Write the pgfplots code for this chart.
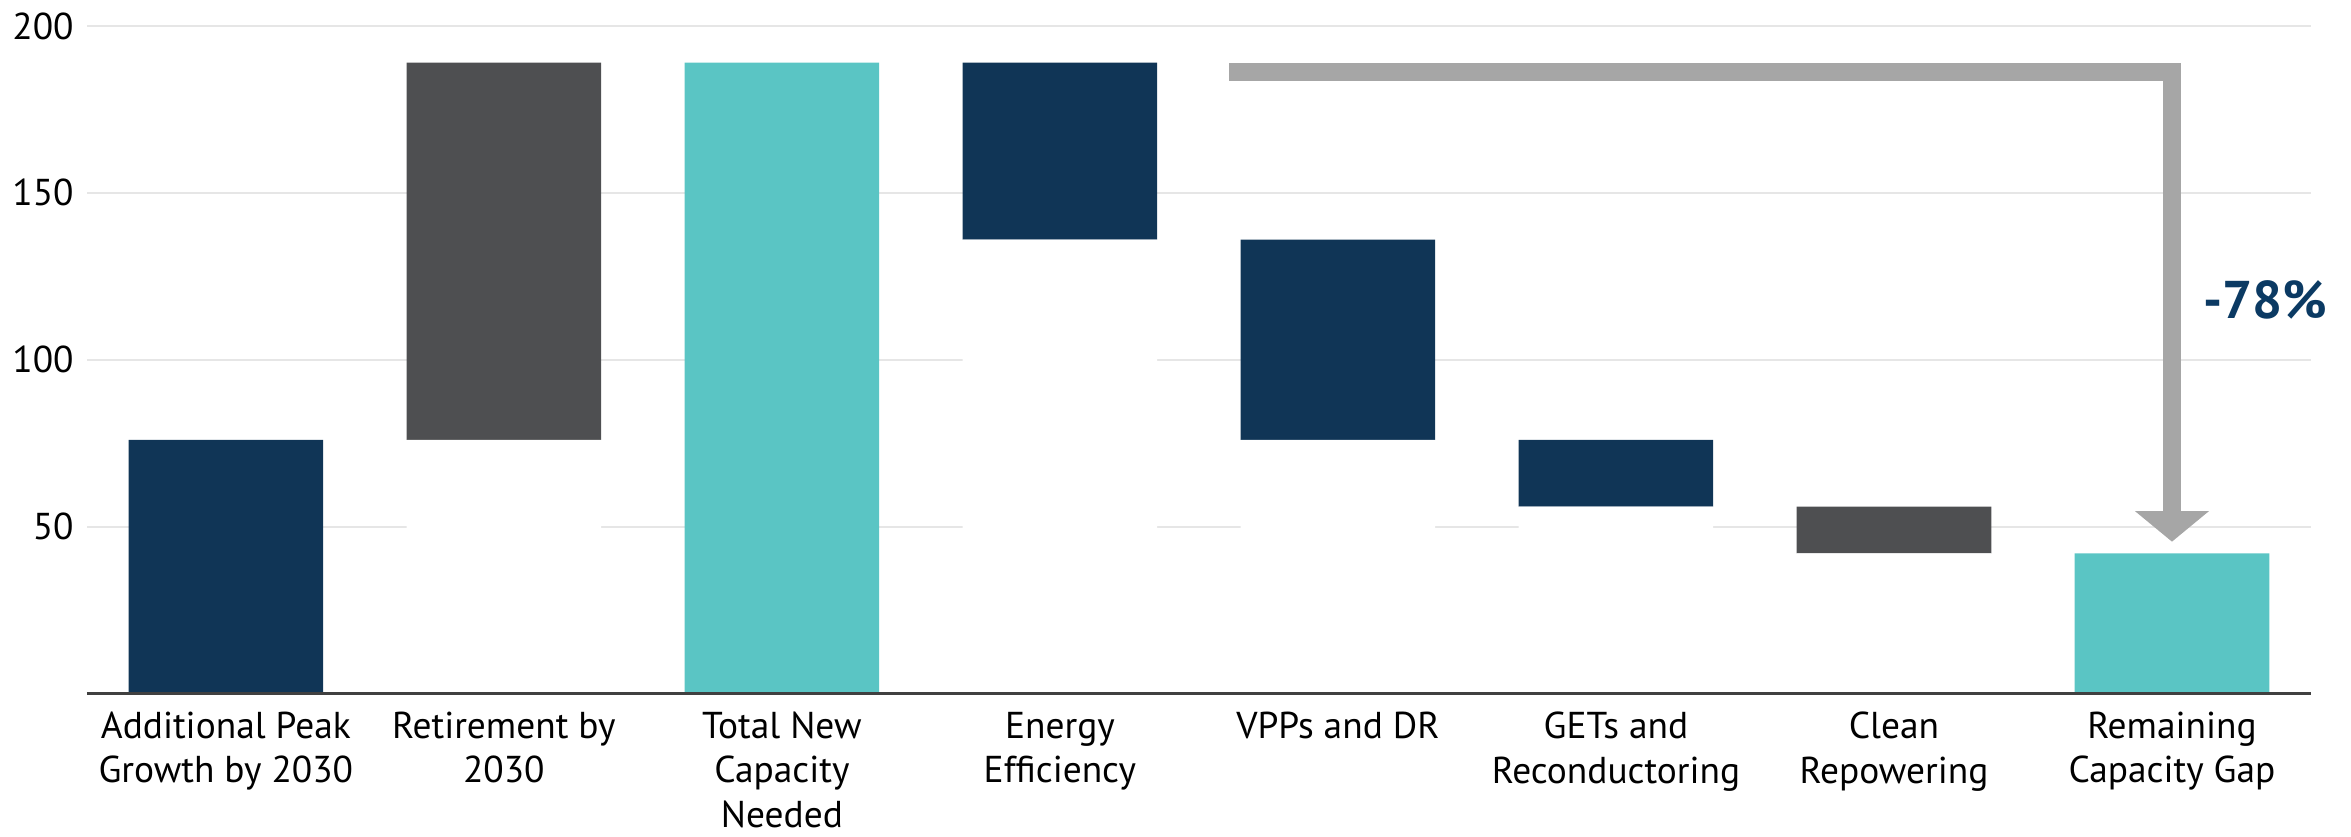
\documentclass[border=0pt]{standalone}
\usepackage{fontspec}
\setmainfont{PT Sans}
\usepackage{pgfplots}
\pgfplotsset{compat=1.18}
\usetikzlibrary{arrows.meta}
\definecolor{navy}{HTML}{103556}
\definecolor{dgray}{HTML}{4E4F51}
\definecolor{tealbar}{HTML}{5AC5C4}
\definecolor{arrowgray}{HTML}{A6A6A6}
\definecolor{gridgray}{HTML}{E6E6E6}
\definecolor{axisgray}{HTML}{404040}
\definecolor{pctblue}{HTML}{0B3A63}
\begin{document}
\begin{tikzpicture}
\begin{axis}[
  scale only axis, width=594.7pt, height=178.5pt,
  xmin=-0.5, xmax=7.5, ymin=0, ymax=200,
  ybar stacked, bar width=0.7,
  clip=false,
  axis x line*=bottom,
  axis y line*=left,
  y axis line style={draw=none},
  x axis line style={draw=none},
  ytick={50,100,150,200},
  xtick={0,...,7},
  xticklabels={{Additional Peak\\Growth by 2030},{Retirement by\\2030},{Total New\\Capacity\\Needed},{Energy\\Efficiency},{VPPs and DR},{GETs and\\Reconductoring},{Clean\\Repowering},{Remaining\\Capacity Gap}},
  major tick length=0pt,
  tick style={draw=none},
  ymajorgrids, grid style={gridgray, line width=0.55pt},
  /pgf/number format/assume math mode=true,
  yticklabel style={font=\fontsize{10}{12}\selectfont, text=black},
  xticklabel style={font=\fontsize{10}{11.8}\selectfont, align=center, anchor=north, inner sep=0pt, yshift=-4.8pt},
  after end axis/.code={\draw[axisgray, line width=0.7pt] (rel axis cs:0,0) -- (rel axis cs:1,0);},
]
\addplot[fill=white, draw=none] coordinates {(0,0) (1,76) (2,0) (3,136) (4,76) (5,56) (6,42) (7,0)};
\addplot[fill=navy, draw=none] coordinates {(0,76) (1,0) (2,0) (3,53) (4,60) (5,20) (6,0) (7,0)};
\addplot[fill=dgray, draw=none] coordinates {(0,0) (1,113) (2,0) (3,0) (4,0) (5,0) (6,14) (7,0)};
\addplot[fill=tealbar, draw=none] coordinates {(0,0) (1,0) (2,189) (3,0) (4,0) (5,0) (6,0) (7,42)};
\draw[arrowgray, line width=4.9pt, line join=miter, -{Triangle[length=8.2pt, width=19.4pt]}] (axis cs:3.61,186.15) -- (axis cs:7,186.15) -- (axis cs:7,45.5);
\node[font=\bfseries\fontsize{14.2}{17}\selectfont, text=pctblue] at (axis cs:7.336,118) {-78\%};
\path (rel axis cs:0,0) ++(-21.9pt,-38.2pt);
\path (rel axis cs:1,1) ++(10.7pt,6.4pt);
\end{axis}
\end{tikzpicture}
\end{document}
